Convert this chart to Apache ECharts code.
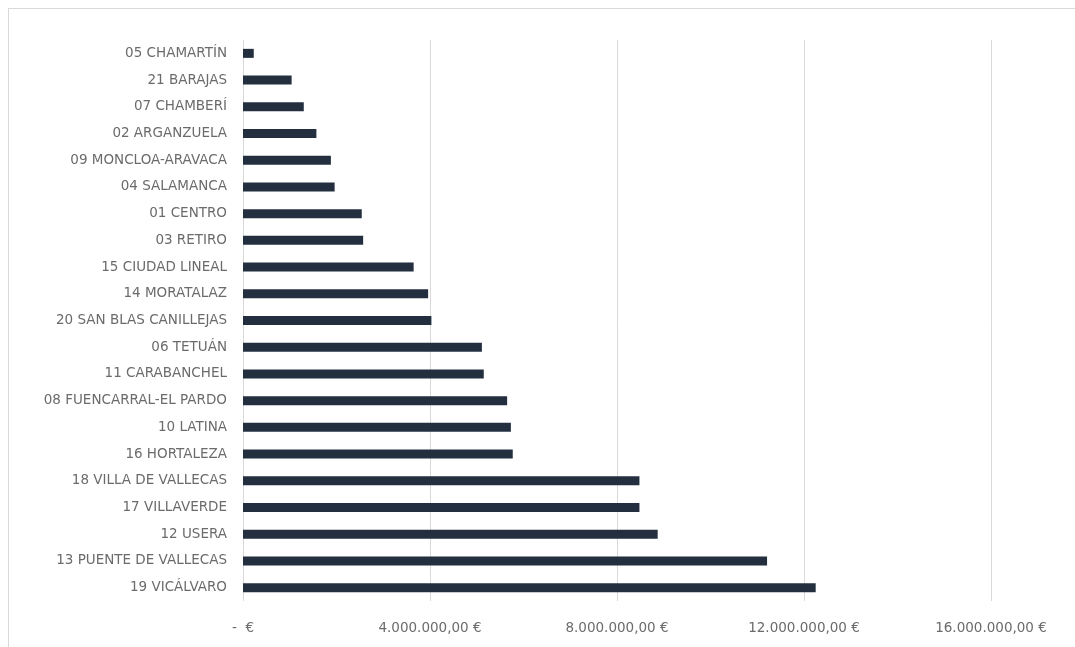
<!DOCTYPE html>
<html>
<head>
<meta charset="utf-8">
<script src="https://cdn.jsdelivr.net/npm/echarts@6/dist/echarts.min.js"></script>
<style>
  html, body { margin: 0; padding: 0; background: #ffffff; }
  #frame { position: absolute; left: 8px; top: 8px; width: 1067px; height: 639px;
           border-left: 1px solid #d9d9d9; border-top: 1px solid #d9d9d9; box-sizing: border-box; }
  #chart { position: absolute; left: 0; top: 0; width: 1075px; height: 647px; }
</style>
</head>
<body>
<div id="frame"></div>
<div id="chart"></div>
<script>
// Districts, listed top to bottom
const districts = [
  '05 CHAMARTÍN', '21 BARAJAS', '07 CHAMBERÍ', '02 ARGANZUELA', '09 MONCLOA-ARAVACA',
  '04 SALAMANCA', '01 CENTRO', '03 RETIRO', '15 CIUDAD LINEAL', '14 MORATALAZ',
  '20 SAN BLAS CANILLEJAS', '06 TETUÁN', '11 CARABANCHEL', '08 FUENCARRAL-EL PARDO',
  '10 LATINA', '16 HORTALEZA', '18 VILLA DE VALLECAS', '17 VILLAVERDE', '12 USERA',
  '13 PUENTE DE VALLECAS', '19 VICÁLVARO'
];

// Amount per district (€)
const amounts = [
  230000, 1040000, 1300000, 1570000, 1880000,
  1960000, 2540000, 2570000, 3650000, 3960000,
  4030000, 5110000, 5150000, 5650000,
  5730000, 5770000, 8480000, 8480000, 8870000,
  11210000, 12250000
];

// Value axis ticks (€)
const tickValues = [0, 4000000, 8000000, 12000000, 16000000];

function euro(v) {
  if (v === 0) return '-  €';
  const parts = v.toFixed(2).split('.');
  const intPart = parts[0].replace(/\B(?=(\d{3})+(?!\d))/g, '.');
  return intPart + ',' + parts[1] + ' €';
}

const labelFont = 'DejaVu Sans';

const chart = echarts.init(document.getElementById('chart'), null, { renderer: 'canvas' });
chart.setOption({
  animation: false,
  backgroundColor: 'transparent',
  grid: { left: 243, right: 84, top: 40, bottom: 46, containLabel: false },
  xAxis: {
    type: 'value',
    min: tickValues[0],
    max: tickValues[tickValues.length - 1],
    interval: tickValues[1] - tickValues[0],
    axisLine: { show: false },
    axisTick: { show: false },
    splitLine: { show: true, lineStyle: { color: '#d9d9d9', width: 1 } },
    axisLabel: {
      margin: 20,
      color: '#6b6b6b',
      fontFamily: labelFont,
      fontSize: 13.5,
      formatter: euro
    }
  },
  yAxis: {
    type: 'category',
    inverse: true,
    data: districts,
    axisLine: { show: false },
    axisTick: { show: false },
    splitLine: { show: false },
    axisLabel: {
      margin: 16,
      color: '#6b6b6b',
      fontFamily: labelFont,
      fontSize: 13.5
    }
  },
  series: [{
    type: 'bar',
    data: amounts,
    barWidth: 9,
    itemStyle: { color: '#232f3f' }
  }]
});
</script>
</body>
</html>
